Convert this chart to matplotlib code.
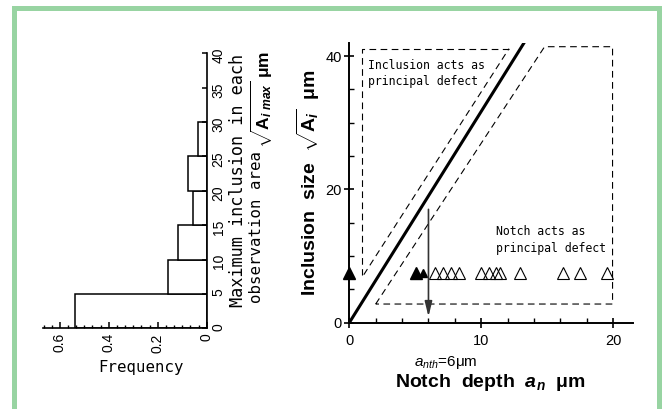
import matplotlib
matplotlib.use("Agg")
import matplotlib.pyplot as plt
from matplotlib.patches import Rectangle
from matplotlib.ticker import MultipleLocator, FixedLocator, FixedFormatter

plt.rcParams['font.family'] = ['Liberation Sans', 'DejaVu Sans']
plt.rcParams['mathtext.fontset'] = 'custom'
plt.rcParams['mathtext.rm'] = 'Liberation Sans'
plt.rcParams['mathtext.it'] = 'Liberation Sans:italic'
plt.rcParams['mathtext.bf'] = 'Liberation Sans:bold'
try:
    plt.rcParams['mathtext.bfit'] = 'Liberation Sans:bold:italic'
except KeyError:
    pass

# ---------------- data ----------------
# Left panel: histogram of maximum inclusion size
size_bin_starts = [0, 5, 10, 15, 20, 25]
size_bin_width = 5
size_frequency = [0.54, 0.157, 0.116, 0.057, 0.078, 0.037]
freq_ticks = [0.6, 0.4, 0.2, 0.0]
freq_tick_labels = ['0.6', '0.4', '0.2', '0']
size_ticks = [0, 5, 10, 15, 20, 25, 30, 35, 40]

# Right panel: notch depth vs inclusion size
notch_filled = [0.0, 5.05]
notch_filled_small = [5.6]
notch_open = [6.5, 7.1, 7.7, 8.3, 10.0, 10.6, 11.1, 11.4, 12.9, 16.2, 17.45, 19.55]
inclusion_size = 7.5
boundary_slope = 3.17
boundary_x = [0.0, 13.6]
upper_band_x = [12.1, 0.95, 0.95]
upper_band_y = [41.1, 41.1, 7.2]
upper_diag_x = [1.1, 12.1]
upper_diag_y = [7.2, 41.1]
lower_band_x = [2.0, 14.8, 19.95, 19.95, 2.0]
lower_band_y = [2.8, 41.4, 41.4, 2.8, 2.8]
a_nth = 6
arrow_y = [17.0, 0.9]
x_major = [0, 10, 20]
y_major = [0, 20, 40]

# ---------------- figure ----------------
W, H = 662, 409
fig = plt.figure(figsize=(W / 100, H / 100), dpi=100)
fig.patch.set_facecolor('white')


def fx(px):
    return px / W


def fy(py):
    return 1 - py / H


green = '#98D4A2'
fig.add_artist(Rectangle((fx(12), 0), 5 / W, (H - 6) / H, transform=fig.transFigure,
                         color=green, lw=0))
fig.add_artist(Rectangle((fx(12), fy(11)), (W - 12) / W, 5 / H, transform=fig.transFigure,
                         color=green, lw=0))
fig.add_artist(Rectangle((fx(657), 0), 5 / W, (H - 6) / H, transform=fig.transFigure,
                         color=green, lw=0))

# ---------- left panel ----------
ax1 = fig.add_axes([fx(42.7), fy(328.3), (206.7 - 42.7) / W, (328.3 - 53.3) / H])
ax1.barh(size_bin_starts, size_frequency, height=size_bin_width, align='edge',
         color='white', edgecolor='black', linewidth=1.1)
ax1.set_xlim(0.67, 0)
ax1.set_ylim(0, 40)
ax1.patch.set_alpha(0)
for s in ['left', 'top']:
    ax1.spines[s].set_visible(False)
for s in ['right', 'bottom']:
    ax1.spines[s].set_linewidth(1.2)
ax1.yaxis.tick_right()
ax1.yaxis.set_major_locator(FixedLocator(size_ticks))
ax1.xaxis.set_major_locator(FixedLocator(freq_ticks))
ax1.xaxis.set_major_formatter(FixedFormatter(freq_tick_labels))
ax1.xaxis.set_minor_locator(MultipleLocator(0.2 / 6))
ax1.tick_params(axis='y', direction='in', length=3.6, width=1.1, labelsize=10,
                labelrotation=90, pad=3.5)
ax1.tick_params(axis='x', which='major', direction='in', length=4.2, width=1.1,
                labelsize=10, labelrotation=90, pad=3.5)
ax1.tick_params(axis='x', which='minor', direction='in', length=2.4, width=1.0)

fig.text(fx(237.7), fy(306.7), "Maximum inclusion in each", rotation=90,
         ha='center', va='bottom', family='DejaVu Sans Mono', fontsize=12.2)
fig.text(fx(256.7), fy(302.7), "observation area", rotation=90,
         ha='center', va='bottom', family='DejaVu Sans Mono', fontsize=11.3)
fig.text(fx(262), fy(148), r"$\sqrt{\mathbf{A}_{\mathbfit{i\ max}}}$ μm", rotation=90,
         ha='center', va='bottom', fontsize=12.5, fontweight='bold')
fig.text(fx(141), fy(371.7), "Frequency", ha='center', va='baseline',
         family='DejaVu Sans Mono', fontsize=11.3)

# ---------- right panel ----------
ax2 = fig.add_axes([fx(349.3), fy(322.7), (633 - 349.3) / W, (322.7 - 42.7) / H])
ax2.set_xlim(0, 21.5)
ax2.set_ylim(0, 42)
ax2.patch.set_alpha(0)
for s in ['right', 'top']:
    ax2.spines[s].set_visible(False)
for s in ['left', 'bottom']:
    ax2.spines[s].set_linewidth(1.4)
ax2.xaxis.set_major_locator(FixedLocator(x_major))
ax2.yaxis.set_major_locator(FixedLocator(y_major))
ax2.xaxis.set_minor_locator(MultipleLocator(2))
ax2.yaxis.set_minor_locator(MultipleLocator(5))
ax2.tick_params(axis='both', which='major', direction='inout', length=7, width=1.2,
                labelsize=10.5)
ax2.tick_params(axis='x', which='major', pad=4.5)
ax2.tick_params(axis='y', which='major', pad=2)
ax2.tick_params(axis='both', which='minor', direction='in', length=3.5, width=1.0)

dash = (0, (6, 4))
ax2.plot(boundary_x, [boundary_slope * v for v in boundary_x], color='black', lw=2.2)
ax2.plot(upper_band_x, upper_band_y, color='black', lw=0.8, linestyle=dash)
ax2.plot(upper_diag_x, upper_diag_y, color='black', lw=0.8, linestyle=dash)
ax2.plot(lower_band_x, lower_band_y, color='black', lw=0.8, linestyle=dash)

ax2.plot(notch_open, [inclusion_size] * len(notch_open), linestyle='none', marker='^',
         ms=8.2, mfc='none', mec='black', mew=0.8, clip_on=False)
ax2.plot(notch_filled, [inclusion_size] * len(notch_filled), linestyle='none', marker='^',
         ms=8.2, color='black', clip_on=False)
ax2.plot(notch_filled_small, [inclusion_size] * len(notch_filled_small), linestyle='none',
         marker='^', ms=5.5, color='black', clip_on=False)

ax2.annotate('', xy=(a_nth, arrow_y[1]), xytext=(a_nth, arrow_y[0]),
             arrowprops=dict(arrowstyle='-|>,head_length=0.9,head_width=0.22',
                             mutation_scale=10, color='#333333', lw=1.2,
                             shrinkA=0, shrinkB=0))

ax2.text(1.44, 38.1, "Inclusion acts as", family='DejaVu Sans Mono', fontsize=8.3,
         ha='left', va='baseline')
ax2.text(1.44, 35.6, "principal defect", family='DejaVu Sans Mono', fontsize=8.3,
         ha='left', va='baseline')
ax2.text(11.09, 13.1, "Notch acts as", family='DejaVu Sans Mono', fontsize=8.3,
         ha='left', va='baseline')
ax2.text(11.09, 10.6, "principal defect", family='DejaVu Sans Mono', fontsize=8.3,
         ha='left', va='baseline')

fig.text(fx(308.3), fy(182.7), r"Inclusion  size  $\sqrt{\mathbf{A}_{\mathbfit{i}}}$  μm",
         rotation=90, ha='center', va='center', fontsize=14, fontweight='bold')
fig.text(fx(490), fy(387), r"Notch  depth  $\mathbfit{a}_{\mathbfit{n}}$  μm",
         ha='center', va='baseline', fontsize=14, fontweight='bold')
fig.text(fx(446), fy(366), r"$a_{nth}$=6μm", ha='center', va='baseline', fontsize=11)

fig.savefig('out.png', dpi=100)
